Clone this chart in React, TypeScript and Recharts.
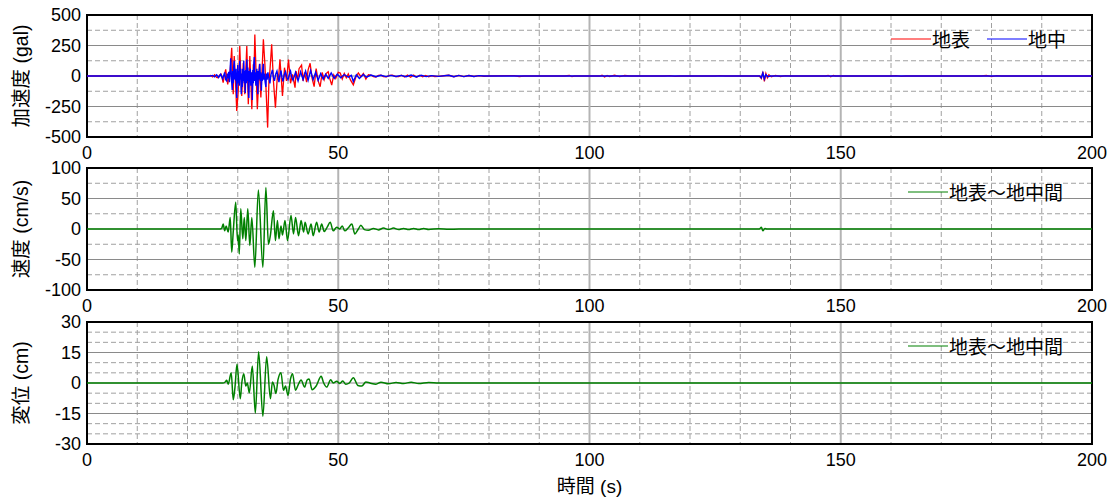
import { LineChart, Line, XAxis, YAxis, CartesianGrid, ReferenceArea, Legend } from 'recharts';

type Pt = [number, number];

// time axis (s)
const TIME_TICKS = [0, 50, 100, 150, 200];
const TIME_MINOR = [10, 20, 30, 40, 60, 70, 80, 90, 110, 120, 130, 140, 160, 170, 180, 190];

// value axes
const ACC_TICKS = [-500, -250, 0, 250, 500];
const ACC_MINOR = [-375, -125, 125, 375];
const VEL_TICKS = [-100, -50, 0, 50, 100];
const VEL_MINOR = [-75, -25, 25, 75];
const DISP_TICKS = [-30, -15, 0, 15, 30];
const DISP_MINOR = [-25, -20, -10, -5, 5, 10, 20, 25];

// 地表 acceleration (gal): [time, value]
const surfaceAcc: Pt[] = [
  [0, 0], [24.2, 0], [24.6, 4], [25.0, -8], [25.4, 10], [25.8, -12], [26.1, -14], [26.4, 8], [26.7, 14],
  [26.9, -20], [27.1, -55], [27.35, 10], [27.6, 55], [27.8, -10], [28.0, -68], [28.25, -5], [28.5, 41],
  [28.8, 232], [29.1, -150], [29.3, 164], [29.55, -40], [29.8, -287], [30.1, -123], [30.4, 246], [30.6, 20],
  [30.8, -164], [31.1, 109], [31.4, -150], [31.8, 246], [32.1, -232], [32.4, 164], [32.6, -30], [32.8, -273],
  [33.1, 96], [33.25, 40], [33.4, 341], [33.65, 20], [33.9, -273], [34.3, 96], [34.6, -177], [34.85, 60],
  [35.1, 300], [35.4, 96], [35.6, -80], [35.95, -423], [36.2, -50], [36.4, 41], [36.75, 259], [37.1, -41],
  [37.5, -259], [37.9, 14], [38.1, -30], [38.4, 137], [38.9, -164], [39.3, 68], [39.7, -41], [40.1, 135],
  [40.5, -60], [40.9, 14], [41.4, -96], [41.6, 40], [41.9, -30], [42.2, 60], [42.7, 90], [43.0, -40],
  [43.3, 30], [43.7, -50], [44.0, 50], [44.4, 104], [44.8, -20], [45.2, -87], [45.6, 60], [46.0, -40],
  [46.4, -88], [46.8, 30], [47.2, -30], [47.6, 20], [48.0, 35], [48.3, -20], [48.7, -74], [49.1, 10],
  [49.5, -20], [50.0, 30], [50.4, 25], [50.8, -25], [51.2, 20], [51.6, -15], [52.0, 18], [52.4, -30],
  [53.0, -73], [53.5, -10], [54.0, 25], [54.5, -5], [55.0, 20], [55.5, -25], [56.0, 10], [56.5, 8],
  [57.0, -6], [57.5, -8], [58.0, 6], [58.5, 7], [59.0, -5], [59.6, -7], [60.2, 5], [60.8, 6],
  [61.4, -4], [62.0, -5], [62.6, 6], [63.2, -8], [63.8, 8], [64.4, -10], [65.0, 8], [65.6, -10],
  [66.2, 7], [66.8, -6], [67.4, 5], [68.0, -6], [68.6, 3], [69.2, -4], [70, -3], [71, 2], [72, 6],
  [73, -6], [74, 5], [75, -5], [76, 4], [77, -4], [78, 3], [79, -2], [80, 0], [85, 3], [86, -4], [87, 0],
  [95, 0], [96, 4], [96.5, -5], [97, 0], [102, 0], [102.5, 6], [103, -8], [103.5, 5], [104, -4], [105, 6],
  [106, -5], [107, 4], [108, 0], [115, 0], [116, 3], [117, -3], [118, 0], [125, 0], [126, 3], [127, 0],
  [133.8, 0], [134.2, -20], [134.5, 35], [134.8, -45], [135.1, 20], [135.4, -15], [135.7, 10], [136.2, -6],
  [137, 5], [138, -4], [139, 3], [140, 0], [147, 0], [147.5, 5], [148, -6], [148.5, 4], [149, 0],
  [160, 0], [161, 3], [162, -3], [163, 0], [178, 0], [179, 4], [180, -5], [181, 3], [182, 0], [200, 0],
];

// 地中 acceleration (gal)
const boreholeAcc: Pt[] = [
  [0, 0], [24.5, 0], [25.0, 5], [25.4, -6], [25.8, 10], [26.2, -12], [26.6, 15], [27.0, -22], [27.4, 30],
  [27.6, -30], [27.8, -40], [27.95, 20], [28.1, -20], [28.2, 35], [28.35, -50], [28.5, 60], [28.6, 145],
  [28.75, -20], [28.9, -115], [29.0, 40], [29.1, -60], [29.2, 80], [29.3, 125], [29.4, -20], [29.55, -30],
  [29.65, 60], [29.8, -180], [29.9, -40], [30.0, 90], [30.1, -60], [30.2, 40], [30.3, -80], [30.4, 125],
  [30.5, -30], [30.6, 60], [30.7, -150], [30.8, 20], [30.9, -90], [31.0, 60], [31.1, -40], [31.2, 125],
  [31.3, -60], [31.4, 40], [31.5, -140], [31.6, 50], [31.7, -60], [31.8, 135], [31.9, -40], [32.0, 70],
  [32.1, -100], [32.2, -180], [32.3, 40], [32.4, -50], [32.5, 60], [32.6, -80], [32.7, -40], [32.8, 30],
  [32.9, -197], [33.0, 50], [33.1, -60], [33.2, 100], [33.3, 155], [33.4, -40], [33.5, 30], [33.6, -80],
  [33.7, -20], [33.8, 60], [33.9, -60], [34.0, -150], [34.1, 40], [34.2, -30], [34.3, 60], [34.4, 100],
  [34.5, -40], [34.6, 30], [34.7, -120], [34.8, 20], [34.9, -40], [35.0, 60], [35.1, 100], [35.2, -30],
  [35.3, 20], [35.45, -50], [35.6, -90], [35.7, 20], [35.85, -30], [36.0, 30], [36.2, -20], [36.4, -60],
  [36.6, 10], [36.9, 50], [37.1, -10], [37.3, -40], [37.55, 15], [37.8, 40], [38.0, -10], [38.2, -50],
  [38.4, 10], [38.6, 45], [38.8, -10], [39.0, -45], [39.25, 10], [39.5, 35], [39.75, -10], [40.0, -30],
  [40.25, 10], [40.5, 40], [40.75, -10], [41.0, -35], [41.5, 30], [42.0, -40], [42.5, 35], [43.0, -30],
  [43.5, 40], [44.0, -35], [44.5, 45], [45.0, -30], [45.5, 30], [46.0, -35], [46.5, 20], [47.0, -25],
  [47.5, 15], [48.0, -20], [48.6, 25], [49.2, -20], [49.8, 15], [50.5, -15], [51.2, 12], [52.0, -10],
  [52.6, 5], [53.0, -45], [53.6, 10], [54.2, -20], [55.0, 12], [55.6, -10], [56.5, 8], [57.5, -6],
  [58.5, 6], [59.5, -5], [60.5, 5], [61.5, -4], [62.5, 5], [63.5, -6], [64.5, 8], [65.5, -8], [66.5, 6],
  [67.5, -5], [68.5, 3], [70, -3], [72, 6], [73, -6], [74, 5], [75, -5], [76, 4], [77, -4], [78, 3],
  [79, 0], [133.9, 0], [134.2, -15], [134.5, 25], [134.8, -25], [135.1, 12], [135.5, -6], [136, 0], [200, 0],
];

// 地表～地中間 relative velocity (cm/s)
const relVelocity: Pt[] = [
  [0, 0], [26.5, 0], [26.8, 1], [27.1, 8], [27.4, -3], [27.7, 5], [28.1, -5], [28.5, 19], [28.8, -38],
  [29.1, -5], [29.6, 44], [29.95, -19], [30.1, -10], [30.3, -41], [30.6, 33], [31.0, -16], [31.3, 19],
  [31.6, -19], [32.0, 33], [32.4, -27], [32.8, 19], [33.4, -63], [34.1, 64], [35.0, -63], [35.6, 68],
  [36.1, -25], [36.5, -10], [37.1, 30], [37.5, -19], [37.9, 14], [38.2, -16], [38.6, 5], [38.9, -10],
  [39.4, 14], [39.9, -19], [40.6, 22], [41.1, -8], [41.5, 19], [42.1, -11], [42.6, 14], [43.1, -5],
  [43.4, 11], [44.0, -8], [44.6, 8], [45.0, -11], [45.7, 11], [46.2, -5], [46.7, 8], [47.2, -4], [47.8, 3],
  [48.4, 11], [49.0, -3], [49.7, 3], [50.3, 0], [50.8, 5], [51.3, -3], [52.0, 2], [52.7, 8], [53.3, -8],
  [54.0, 0], [54.5, 6], [55.2, -1], [56.0, -2], [57.0, 1], [58.0, -1.5], [59.0, 1.5], [60.0, -1],
  [61.0, 1.5], [62.0, -1], [63, 1], [64, -1], [65, 1], [66, -1], [67, 0.8], [68, -0.8], [70, 0.5],
  [72, -0.5], [74, 0], [133.8, 0], [134.2, 3], [134.5, -3], [134.9, 1], [135.3, 0], [200, 0],
];

// 地表～地中間 relative displacement (cm)
const relDisplacement: Pt[] = [
  [0, 0], [27.0, 0], [27.5, 0.5], [27.8, 1.3], [28.1, -0.6], [28.7, 5.1], [29.1, -8.2], [29.45, -2],
  [29.85, 9.2], [30.5, -7.8], [30.8, 0], [31.2, 4.6], [31.6, -1.5], [31.9, 0], [32.3, -4.8], [32.9, 8.3],
  [33.5, -14.8], [34.15, 15.4], [35.0, -16.4], [35.75, 12.9], [36.5, -7.7], [36.9, 0.5], [37.2, -1],
  [37.6, -5.2], [38.0, 1.5], [38.6, 5.1], [39.1, -3.6], [39.5, -1.5], [40.0, -6.1], [40.5, 2], [40.9, 4.6],
  [41.5, -3.6], [42, -1], [42.6, 1.5], [43.3, -2], [43.8, 1.5], [44.2, 2], [44.8, -3.3], [45.6, -1.5],
  [46.6, 3.3], [47.1, 0], [47.7, -2], [48.5, 1.6], [49.0, 0], [49.7, 0.8], [50.3, -0.2], [50.9, 1],
  [51.5, -0.6], [52.2, 0], [53.0, 2.6], [53.9, -1.2], [54.7, -1.5], [55.5, 0.5], [56.3, 0], [57.5, -0.6],
  [58.5, 0.4], [60, -0.4], [61.5, 0.3], [63, -0.3], [64.5, 0.4], [66, -0.3], [68, 0.3], [70, 0], [200, 0],
];

const FONT = "'Liberation Sans', Arial, 'Noto Sans CJK JP', sans-serif";
const CJK = "'Noto Sans CJK JP', 'Liberation Sans', sans-serif";
const T_MAX = 200;

const toRows = (pts: Pt[]) => pts.map(([t, v]) => ({ t, v }));

interface Series {
  name: string;
  color: string;
  data: Pt[];
  curve: 'linear' | 'monotone';
  width: number;
}

interface PanelProps {
  top: number;
  height: number;
  series: Series[];
  ticks: number[];
  minor: number[];
  yTitle: string;
  xTitle?: string;
  legendLeft: number;
}

// legend keeps the series order (地表 first)
function LegendBox({ series }: { series: Series[] }) {
  return (
    <div style={{ display: 'flex', alignItems: 'center', fontFamily: CJK, fontSize: 19, lineHeight: '24px', color: '#000' }}>
      {series.map((s, i) => (
        <div key={s.name} style={{ display: 'flex', alignItems: 'center', marginLeft: i ? 17 : 0 }}>
          <svg width={40} height={4}>
            <line x1={0} y1={2} x2={40} y2={2} stroke={s.color} strokeWidth={1.2} />
          </svg>
          <span style={{ marginLeft: 1 }}>{s.name}</span>
        </div>
      ))}
    </div>
  );
}

function Panel({ top, height, series, ticks, minor, yTitle, xTitle, legendLeft }: PanelProps) {
  const lo = ticks[0];
  const hi = ticks[ticks.length - 1];
  const tickStyle = { fontSize: 18, fill: '#000', fontFamily: FONT };

  // dashed minor grid positions, mapped through the plot area
  const minorY = ({ offset }: any) => minor.map((v) => offset.top + ((hi - v) / (hi - lo)) * offset.height);
  const minorX = ({ offset }: any) => TIME_MINOR.map((v) => offset.left + (v / T_MAX) * offset.width);

  return (
    <div style={{ position: 'absolute', left: 0, top }}>
      <LineChart width={1116} height={height} margin={{ top: 15, right: 24, bottom: 0, left: 0 }}>
        <CartesianGrid
          stroke="#a0a0a0"
          strokeDasharray="5 3"
          horizontalCoordinatesGenerator={minorY}
          verticalCoordinatesGenerator={minorX}
        />
        <CartesianGrid stroke="#8a8a8a" strokeWidth={1.2} vertical={false} />
        <CartesianGrid stroke="#b4b4b4" strokeWidth={2} horizontal={false} />
        <XAxis
          dataKey="t"
          type="number"
          domain={[0, T_MAX]}
          ticks={TIME_TICKS}
          interval={0}
          axisLine={false}
          tickLine={false}
          tickSize={6}
          tickMargin={3}
          tick={tickStyle}
          height={xTitle ? 57 : 25}
          label={
            xTitle
              ? { value: xTitle, position: 'insideBottom', offset: 8, style: { fontSize: 19, fill: '#000', fontFamily: FONT } }
              : undefined
          }
        />
        <YAxis
          type="number"
          domain={[lo, hi]}
          ticks={ticks}
          interval={0}
          width={87}
          axisLine={false}
          tickLine={false}
          tickSize={4}
          tickMargin={2}
          tick={tickStyle}
          label={{ value: yTitle, angle: -90, position: 'center', dx: -22, style: { fontSize: 19.5, fill: '#000', fontFamily: FONT } }}
        />
        {series.map((s) => (
          <Line
            key={s.name}
            name={s.name}
            data={toRows(s.data)}
            dataKey="v"
            type={s.curve}
            stroke={s.color}
            strokeWidth={s.width}
            dot={false}
            activeDot={false}
            isAnimationActive={false}
          />
        ))}
        <ReferenceArea x1={0} x2={T_MAX} y1={lo} y2={hi} fill="none" stroke="#000" strokeWidth={2} ifOverflow="visible" />
        <Legend
          layout="horizontal"
          verticalAlign="middle"
          align="center"
          content={() => <LegendBox series={series} />}
          wrapperStyle={{ left: legendLeft, top: 27, width: 'auto', height: 'auto' }}
        />
      </LineChart>
    </div>
  );
}

export default function App() {
  return (
    <div style={{ position: 'absolute', left: 0, top: 0, width: 1116, height: 501, background: '#fff', fontFamily: FONT }}>
      <Panel
        top={0}
        height={162}
        series={[
          { name: '地表', color: '#ff0000', data: surfaceAcc, curve: 'linear', width: 1.3 },
          { name: '地中', color: '#0000ff', data: boreholeAcc, curve: 'linear', width: 1.4 },
        ]}
        ticks={ACC_TICKS}
        minor={ACC_MINOR}
        yTitle="加速度 (gal)"
        legendLeft={891}
      />
      <Panel
        top={153}
        height={162}
        series={[{ name: '地表～地中間', color: '#008000', data: relVelocity, curve: 'monotone', width: 1.5 }]}
        ticks={VEL_TICKS}
        minor={VEL_MINOR}
        yTitle="速度 (cm/s)"
        legendLeft={908}
      />
      <Panel
        top={307}
        height={194}
        series={[{ name: '地表～地中間', color: '#008000', data: relDisplacement, curve: 'monotone', width: 1.5 }]}
        ticks={DISP_TICKS}
        minor={DISP_MINOR}
        yTitle="変位 (cm)"
        xTitle="時間 (s)"
        legendLeft={908}
      />
    </div>
  );
}
